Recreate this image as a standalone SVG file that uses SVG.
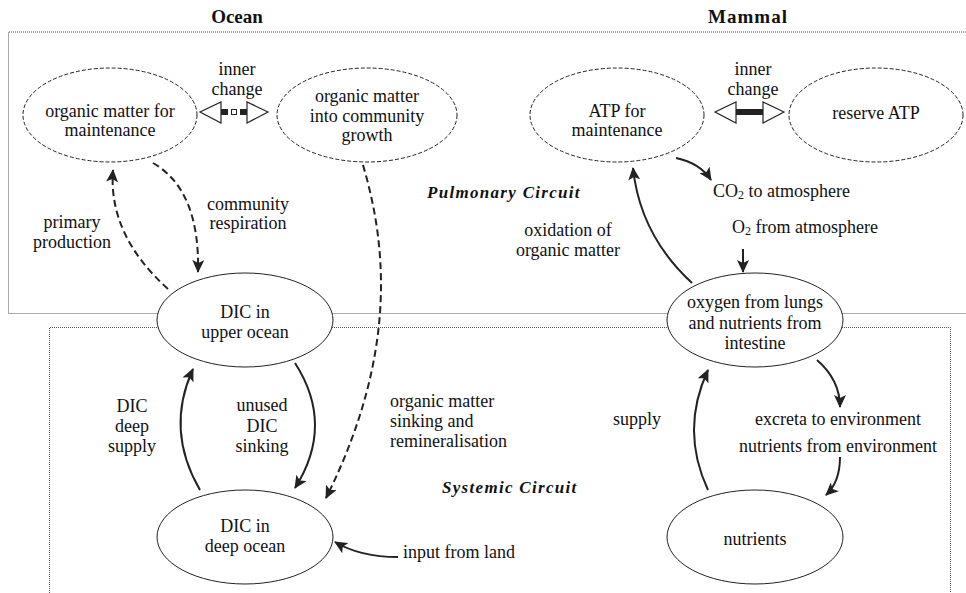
<svg xmlns="http://www.w3.org/2000/svg" width="966" height="593" viewBox="0 0 966 593" font-family="'Liberation Serif', 'Times New Roman', 'DejaVu Serif', serif">
<style>
text{font-family:'Liberation Serif','Times New Roman','DejaVu Serif',serif;font-size:18px;fill:#111}
.t{font-weight:bold;font-size:19px}
.c{font-weight:bold;font-style:italic;font-size:17px;letter-spacing:1.3px}
.m{text-anchor:middle}
.box{fill:none;stroke:#555;stroke-width:1;stroke-dasharray:1,1}
.de{fill:#fff;stroke:#222;stroke-width:1;stroke-dasharray:4,2}
.se{fill:#fff;stroke:#222;stroke-width:1}
.sl{fill:none;stroke:#222;stroke-width:2}
.dl{fill:none;stroke:#222;stroke-width:2;stroke-dasharray:7,4}
.ah{fill:#fff;stroke:#222;stroke-width:1.2}
</style>
<defs>
<marker id="arr" markerUnits="userSpaceOnUse" markerWidth="14" markerHeight="12" refX="12" refY="6" orient="auto">
<path d="M0,0 L13,6 L0,12 L3,6 z" fill="#222" stroke="none"/>
</marker>
</defs>
<rect width="966" height="593" fill="#fff"/>
<g id="regions">
<path class="box" d="M966,32 H8.5 V313.5 H966"/>
<path class="box" d="M49.5,593 V327.5 H950.5 V593"/>
</g>
<g id="titles">
<text class="t m" x="237" y="23">Ocean</text>
<text class="t m" x="748" y="23" letter-spacing="1">Mammal</text>
<text class="c" x="427" y="198">Pulmonary  Circuit</text>
<text class="c" x="442" y="493">Systemic Circuit</text>
</g>
<g id="connectors">
<path class="dl" d="M168,289 Q108,235 113,170" marker-end="url(#arr)"/>
<path class="dl" d="M153,163 Q200,190 198,272" marker-end="url(#arr)"/>
<path class="dl" d="M363,165 C385,240 400,350 326,498" marker-end="url(#arr)"/>
<path class="sl" d="M200,490 Q165,430 193,369" marker-end="url(#arr)"/>
<path class="sl" d="M295,363 Q335,425 295,488" marker-end="url(#arr)"/>
<path class="sl" d="M398,557 Q360,557 335,542" marker-end="url(#arr)"/>
<path class="sl" d="M676,158 Q700,163 711,180" marker-end="url(#arr)"/>
<path class="sl" d="M743,249 L743,272" marker-end="url(#arr)"/>
<path class="sl" d="M692,283 Q640,235 633,168" marker-end="url(#arr)"/>
<path class="sl" d="M708,490 Q680,430 708,370" marker-end="url(#arr)"/>
<path class="sl" d="M817,360 Q840,380 840,407" marker-end="url(#arr)"/>
<path class="sl" d="M840,457 Q840,482 826,495" marker-end="url(#arr)"/>
<g id="inner-change-ocean">
<polygon class="ah" points="200,112 221,102 221,123"/>
<polygon class="ah" points="268,112 247,102 247,123"/>
<rect x="221" y="109" width="7" height="6" fill="#222"/>
<rect x="231.5" y="109.5" width="5" height="5" fill="#fff" stroke="#222" stroke-width="1"/>
<rect x="240" y="109" width="7" height="6" fill="#222"/>
</g>
<g id="inner-change-mammal">
<polygon class="ah" points="715,112 736,102 736,123"/>
<polygon class="ah" points="784,112 763,102 763,123"/>
<rect x="736" y="109" width="27" height="6" fill="#222"/>
</g>
</g>
<g id="labels">
<text class="m" x="237" y="75">inner</text>
<text class="m" x="237" y="95">change</text>
<text class="m" x="753" y="75">inner</text>
<text class="m" x="753" y="95">change</text>
<text class="m" x="72" y="228">primary</text>
<text class="m" x="72" y="248">production</text>
<text class="m" x="248" y="210">community</text>
<text class="m" x="248" y="229">respiration</text>
<text x="713" y="197">CO<tspan font-size="12" dy="2">2</tspan><tspan dy="-2"> to atmosphere</tspan></text>
<text x="732" y="233">O<tspan font-size="12" dy="2">2</tspan><tspan dy="-2"> from atmosphere</tspan></text>
<text class="m" x="568" y="236">oxidation of</text>
<text class="m" x="568" y="256">organic matter</text>
<text class="m" x="132" y="412">DIC</text>
<text class="m" x="132" y="432">deep</text>
<text class="m" x="132" y="452">supply</text>
<text class="m" x="262" y="411">unused</text>
<text class="m" x="262" y="432">DIC</text>
<text class="m" x="262" y="452">sinking</text>
<text x="390" y="407">organic matter</text>
<text x="390" y="427">sinking and</text>
<text x="390" y="447">remineralisation</text>
<text x="403" y="558">input from land</text>
<text class="m" x="637" y="425">supply</text>
<text class="m" x="838" y="425">excreta to environment</text>
<text class="m" x="838" y="452">nutrients from environment</text>
</g>
<g id="om-maintenance">
<ellipse class="de" cx="110" cy="115" rx="87" ry="47"/>
<text class="m" x="110" y="117">organic matter for</text>
<text class="m" x="110" y="136">maintenance</text>
</g>
<g id="om-growth">
<ellipse class="de" cx="367" cy="115" rx="90" ry="47"/>
<text class="m" x="367" y="102">organic matter</text>
<text class="m" x="367" y="122">into community</text>
<text class="m" x="367" y="141">growth</text>
</g>
<g id="atp-maintenance">
<ellipse class="de" cx="617" cy="115" rx="87" ry="47"/>
<text class="m" x="617" y="117">ATP for</text>
<text class="m" x="617" y="136">maintenance</text>
</g>
<g id="reserve-atp">
<ellipse class="de" cx="876" cy="115" rx="87" ry="47"/>
<text class="m" x="876" y="119">reserve ATP</text>
</g>
<g id="dic-upper">
<ellipse class="se" cx="245" cy="320" rx="88" ry="47"/>
<text class="m" x="245" y="318">DIC in</text>
<text class="m" x="245" y="338">upper ocean</text>
</g>
<g id="dic-deep">
<ellipse class="se" cx="245" cy="537" rx="88" ry="47"/>
<text class="m" x="245" y="532">DIC in</text>
<text class="m" x="245" y="552">deep ocean</text>
</g>
<g id="oxygen">
<ellipse class="se" cx="755" cy="320" rx="88" ry="47"/>
<text class="m" x="755" y="308">oxygen from lungs</text>
<text class="m" x="755" y="329">and nutrients from</text>
<text class="m" x="755" y="349">intestine</text>
</g>
<g id="nutrients">
<ellipse class="se" cx="755" cy="537" rx="88" ry="47"/>
<text class="m" x="755" y="545">nutrients</text>
</g>
</svg>
